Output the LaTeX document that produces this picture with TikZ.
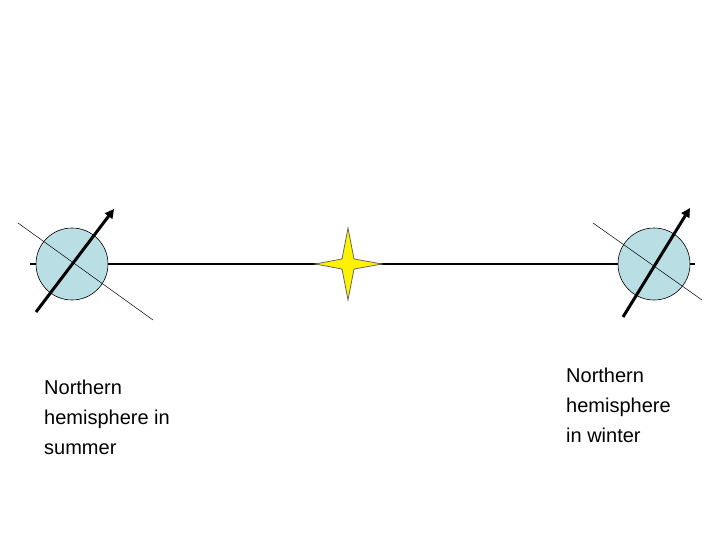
\documentclass[tikz,border=0pt]{standalone}
\usepackage{fontspec}
\setmainfont{Liberation Sans}
\usetikzlibrary{arrows.meta}
\definecolor{earth}{HTML}{B9DFE5}
\tikzset{
  planet/.style={circle,draw=black,fill=earth,minimum size=72pt,inner sep=0pt,line width=0.6pt},
  axisarrow/.style={line width=3pt,-{Triangle[length=9pt,width=9pt]}},
  thin/.style={line width=0.5pt},
  orbit/.style={line width=2.6pt},
  lbl/.style={align=left,anchor=north west,font=\fontsize{20}{30}\selectfont,inner sep=0pt}
}
\begin{document}
\begin{tikzpicture}[x=1pt,y=-1pt]
\useasboundingbox (0,0) rectangle (720,540);
\coordinate (L0) at (30,264);
\coordinate (R0) at (695,264);
\draw[orbit] (L0) -- (R0);
\node[planet] (e1) at (72,264) {};
\node[planet] (e2) at (654,264) {};
\draw[thin] (18,223) -- (153,320);
\draw[thin] (593,223) -- (702,300);
\draw[axisarrow] (36,312) -- (114,209);
\draw[axisarrow] (623,317) -- (690,208);
\coordinate (sun) at (348,264);
\draw[draw=black!60,fill=yellow,line width=0.8pt,line join=miter]
  (315,264) -- (342,259) -- (348,228) -- (354,259) -- (382,264)
  -- (354,269) -- (348,300) -- (342,269) -- cycle;
\node[lbl] (t1) at (44,380) {Northern\\hemisphere in\\summer};
\node[lbl] (t2) at (566,368) {Northern\\hemisphere\\in winter};
\end{tikzpicture}
\end{document}
